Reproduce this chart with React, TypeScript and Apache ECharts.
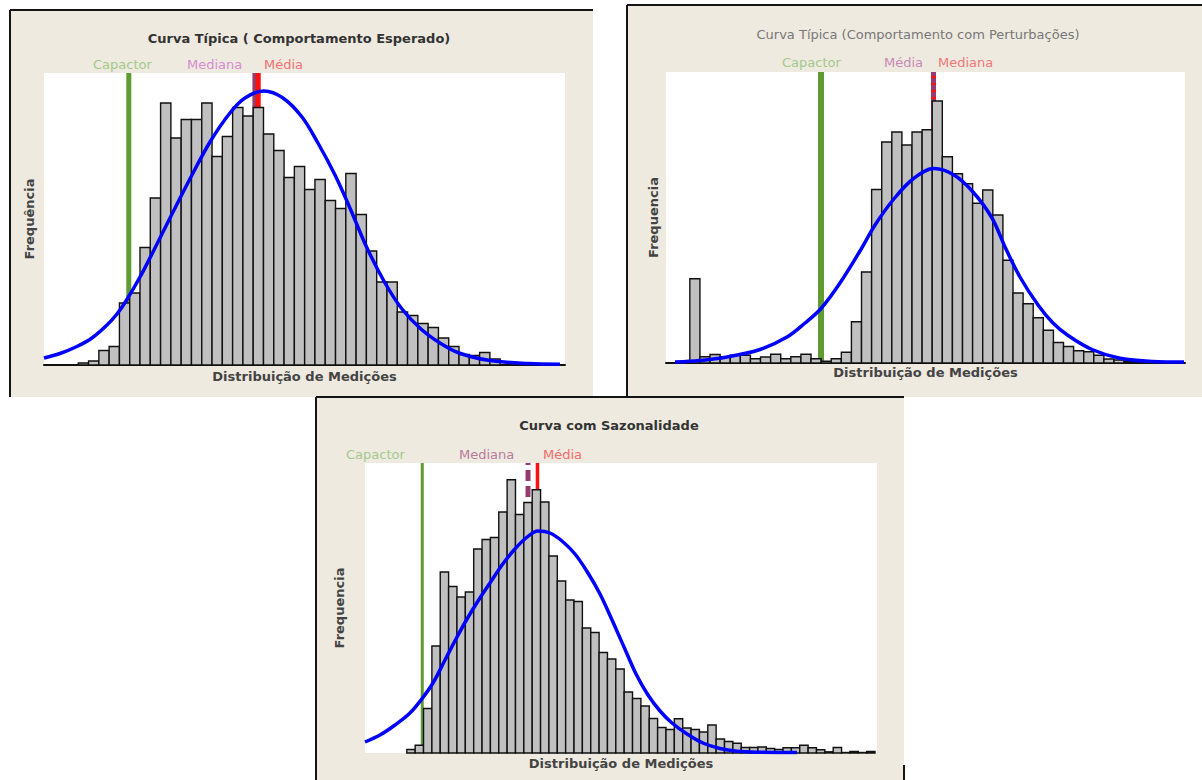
import React, { useEffect, useRef } from "react";
import * as echarts from "echarts";

// ---------- Panel 1: Curva Típica (Comportamento Esperado) ----------
const p1Counts = [2, 4, 14.5, 18.5, 62, 72, 117.5, 167, 262, 227, 245.5, 245.5, 262, 208.5, 228.5, 257.5, 249, 257.5, 231, 214.5, 187.5, 198.5, 175.5, 185.5, 164.5, 156.5, 191.5, 150.5, 114, 83, 83, 53, 49.5, 41.5, 37.5, 27, 18.5, 10.5, 9.5, 12.5, 6];
const p1CurveX = [-3.33, -1.78, -0.13, 1.33, 2.79, 3.76, 4.64, 6.0, 7.26, 9.11, 10.95, 12.8, 14.74, 16.2, 18.05, 19.89, 21.74, 23.29, 24.95, 26.4, 28.06, 29.81, 31.46, 33.3, 35.15, 37.0, 40.01, 43.7, 46.81];
const p1CurveY = [7, 11.5, 18.5, 27, 40, 51, 64, 88, 113, 151, 188, 223, 252, 267, 274, 267, 248, 222, 190, 157, 117, 82, 56, 36, 22, 12, 4.5, 1.5, 0.8];
const p1Capactor = 4.91;
const p1Mediana = 17.12;
const p1Media = 17.49;

// ---------- Panel 2: Curva Típica (Comportamento com Perturbações) ----------
const p2Counts = [84.3, 6.3, 8.5, 6.3, 7.8, 7.8, 4.3, 6, 8.7, 4.3, 6.3, 8.7, 4.3, 1.8, 4.3, 10.8, 41.3, 91, 173.5, 221, 231, 218, 231, 233.2, 262, 206.3, 189.3, 179.3, 159.8, 173, 148, 102.8, 70, 59.3, 45.3, 32.8, 20.5, 16.5, 12.2, 11.2, 7.8, 4, 3, 1.3];
const p2CurveX = [-1.47, 1.01, 3.68, 6.95, 9.62, 11.41, 12.99, 14.87, 16.85, 18.34, 20.12, 22.1, 24.18, 26.16, 28.04, 29.92, 31.21, 32.69, 34.48, 35.96, 37.45, 39.82, 42.59, 45.86, 48.93];
const p2CurveY = [1, 2.5, 6, 13.5, 26, 40, 54.5, 80, 112, 138, 163, 184, 194.4, 188, 171, 145, 116, 86, 58, 40, 27.5, 13.5, 4.7, 1.5, 1];
const p2Capactor = 12.99;
const p2Media = 24.13;
const p2Mediana = 24.13;

// ---------- Panel 3: Curva com Sazonalidade ----------
const p3Counts = [3.5, 7.8, 44.5, 107, 181, 166.5, 156, 161, 204, 213.5, 215.5, 241, 273.3, 238.5, 250.5, 263.3, 251, 197, 172, 153, 151.5, 125, 120.5, 100.5, 94, 84, 61, 54.5, 47, 34.5, 25.5, 23.5, 34.2, 25, 23.5, 21, 28, 14, 11.5, 9.7, 5.5, 5.5, 6, 4.5, 3.5, 5.3, 5.3, 7.8, 5.2, 3.3, 1.2, 5.5, 0.5, 1.5, 0.5, 1.5];
const p3CurveX = [-5.0, -3.21, -1.41, 0.38, 1.7, 3.13, 4.57, 5.88, 7.2, 8.52, 9.95, 11.39, 12.82, 14.26, 15.69, 17.13, 18.56, 20.12, 21.67, 23.11, 24.55, 25.98, 27.42, 28.85, 30.29, 31.72, 33.52, 35.41, 37.45, 39.48, 42.23, 46.67];
const p3CurveY = [11, 18, 28, 40, 53, 70, 93, 114, 134, 152, 170, 188, 203, 215, 222, 220, 212, 199, 180, 159, 133, 106, 79, 58, 42, 30, 19, 10, 4.5, 1.8, 0.8, 0.5];
const p3Capactor = 1.85;
const p3Mediana = 14.5;
const p3Media = 15.63;

// texts
const titles = ["Curva Típica ( Comportamento Esperado)", "Curva Típica (Comportamento com Perturbações)", "Curva com Sazonalidade"];
const yNames = ["Frequência", "Frequencia", "Frequencia"];
const xName = "Distribuição de Medições";

const FONT = "'DejaVu Sans', Verdana, sans-serif";
const BG = "#eeeae0";
const GREEN = "#5f9a32";
const PURPLE = "#973a6c";
const RED = "#ff1010";
const BLUE = "#0000ff";

const zip = (xs: number[], ys: number[]) => xs.map((x, i) => [x, ys[i]]);

function barSeries(counts: number[], idx: number) {
  return {
    type: "custom",
    xAxisIndex: idx,
    yAxisIndex: idx,
    z: 2,
    silent: true,
    encode: { x: 0, y: 1 },
    data: counts.map((c, i) => [i, c]),
    renderItem: (_params: any, api: any) => {
      const i = api.value(0);
      const h = api.value(1);
      const tl = api.coord([i, h]);
      const br = api.coord([i + 1, 0]);
      return {
        type: "rect",
        shape: { x: tl[0], y: tl[1], width: br[0] - tl[0], height: br[1] - tl[1] },
        style: { fill: "#c0c0c0", stroke: "#111", lineWidth: 1.4 },
      };
    },
  };
}

function vline(x: number, yMax: number, idx: number, color: string, width: number, type: any = "solid", z = 1) {
  return {
    type: "line",
    xAxisIndex: idx,
    yAxisIndex: idx,
    z,
    silent: true,
    symbol: "none",
    showSymbol: false,
    data: [[x, 0], [x, yMax]],
    lineStyle: { color, width, type, cap: "butt" },
  };
}

function curve(xs: number[], ys: number[], idx: number) {
  return {
    type: "line",
    xAxisIndex: idx,
    yAxisIndex: idx,
    z: 3,
    silent: true,
    smooth: 0.35,
    symbol: "none",
    showSymbol: false,
    data: zip(xs, ys),
    lineStyle: { color: BLUE, width: 3.5 },
  };
}

const axisNameStyle = { fontFamily: FONT, fontSize: 13, fontWeight: "bold", color: "#444" };

function txt(text: string, x: number, y: number, color: string, size: number, bold: boolean, align = "left") {
  return {
    type: "text",
    x,
    y,
    z: 20,
    silent: true,
    style: {
      text,
      fill: color,
      font: `${bold ? "bold " : ""}${size}px ${FONT}`,
      align,
      textAlign: align,
      verticalAlign: "middle",
      textVerticalAlign: "middle",
    },
  };
}

function hline(x1: number, y1: number, x2: number, y2: number) {
  return { type: "line", z: -9, silent: true, shape: { x1, y1, x2, y2 }, style: { stroke: "#151515", lineWidth: 2 } };
}

export default function App() {
  const ref = useRef<HTMLDivElement>(null);
  useEffect(() => {
    if (!ref.current) return;
    const chart = echarts.init(ref.current, undefined, { renderer: "svg" });
    const yMax = [292, 291, 290];
    const option: any = {
      animation: false,
      backgroundColor: "#ffffff",
      textStyle: { fontFamily: FONT },
      grid: [
        { left: 44, top: 73, width: 521, height: 292, show: true, backgroundColor: "#ffffff", borderWidth: 0 },
        { left: 666, top: 72, width: 519, height: 291, show: true, backgroundColor: "#ffffff", borderWidth: 0 },
        { left: 365, top: 463, width: 512, height: 290, show: true, backgroundColor: "#ffffff", borderWidth: 0 },
      ],
      xAxis: [
        { gridIndex: 0, type: "value", min: -3.33, max: 47.3, name: xName, nameGap: 5 },
        { gridIndex: 1, type: "value", min: -2.36, max: 49.03, name: xName, nameGap: 3 },
        { gridIndex: 2, type: "value", min: -5.0, max: 56.24, name: xName, nameGap: 4, axisLine: { show: false } },
      ].map((a: any) => ({
        nameLocation: "middle",
        nameTextStyle: axisNameStyle,
        axisTick: { show: false },
        axisLabel: { show: false },
        splitLine: { show: false },
        ...a,
        axisLine: a.axisLine ?? { show: true, lineStyle: { color: "#111", width: 2 } },
      })),
      yAxis: [0, 1, 2].map((i) => ({
        gridIndex: i,
        type: "value",
        min: 0,
        max: yMax[i],
        name: yNames[i],
        nameLocation: "middle",
        nameGap: [8, 6, 19][i],
        nameRotate: 90,
        nameTextStyle: axisNameStyle,
        axisLine: { show: false },
        axisTick: { show: false },
        axisLabel: { show: false },
        splitLine: { show: false },
      })),
      series: [
        // panel 1
        vline(p1Capactor, yMax[0], 0, GREEN, 5),
        vline(p1Mediana, yMax[0], 0, PURPLE, 4),
        vline(p1Media, yMax[0], 0, RED, 5),
        barSeries(p1Counts, 0),
        curve(p1CurveX, p1CurveY, 0),
        // panel 2
        vline(p2Capactor, yMax[1], 1, GREEN, 6),
        vline(p2Mediana, yMax[1], 1, RED, 5),
        vline(p2Media, yMax[1], 1, PURPLE, 5, [5, 2], 1.5),
        barSeries(p2Counts, 1),
        curve(p2CurveX, p2CurveY, 1),
        // panel 3
        vline(p3Capactor, yMax[2], 2, GREEN, 3),
        vline(p3Mediana, yMax[2], 2, PURPLE, 5, [11, 5]),
        vline(p3Media, yMax[2], 2, RED, 3.5),
        barSeries(p3Counts, 2),
        curve(p3CurveX, p3CurveY, 2),
      ],
      graphic: {
        elements: [
          { type: "rect", z: -10, silent: true, shape: { x: 10, y: 10, width: 583, height: 387 }, style: { fill: BG } },
          { type: "rect", z: -10, silent: true, shape: { x: 627, y: 5, width: 575, height: 392 }, style: { fill: BG } },
          { type: "rect", z: -10, silent: true, shape: { x: 316, y: 397, width: 588, height: 383 }, style: { fill: BG } },
          hline(10, 10, 593, 10),
          hline(10, 10, 10, 397),
          hline(627, 5, 1202, 5),
          hline(627, 5, 627, 397),
          hline(316, 397, 904, 397),
          hline(316, 397, 316, 780),
          hline(904, 765, 904, 780),
          txt(titles[0], 299, 38, "#333", 13, true, "center"),
          txt(titles[1], 918, 34, "#777", 13, false, "center"),
          txt(titles[2], 609, 425, "#333", 13, true, "center"),
          txt("Capactor", 93, 64, "#a3c98a", 13, false),
          txt("Mediana", 187, 64, "#d48cd0", 13, false),
          txt("Média", 264, 64, "#f27272", 13, false),
          txt("Capactor", 782, 62.5, "#a3c98a", 13, false),
          txt("Média", 884, 62.5, "#c888b5", 13, false),
          txt("Mediana", 938, 62.5, "#f27878", 13, false),
          txt("Capactor", 346, 454, "#a3c98a", 13, false),
          txt("Mediana", 459, 454, "#b87a9c", 13, false),
          txt("Média", 543, 454, "#f26a6a", 13, false),
        ],
      },
    };
    chart.setOption(option);
    return () => chart.dispose();
  }, []);
  return <div ref={ref} style={{ position: "absolute", left: 0, top: 0, width: 1202, height: 780, background: "#fff" }} />;
}
